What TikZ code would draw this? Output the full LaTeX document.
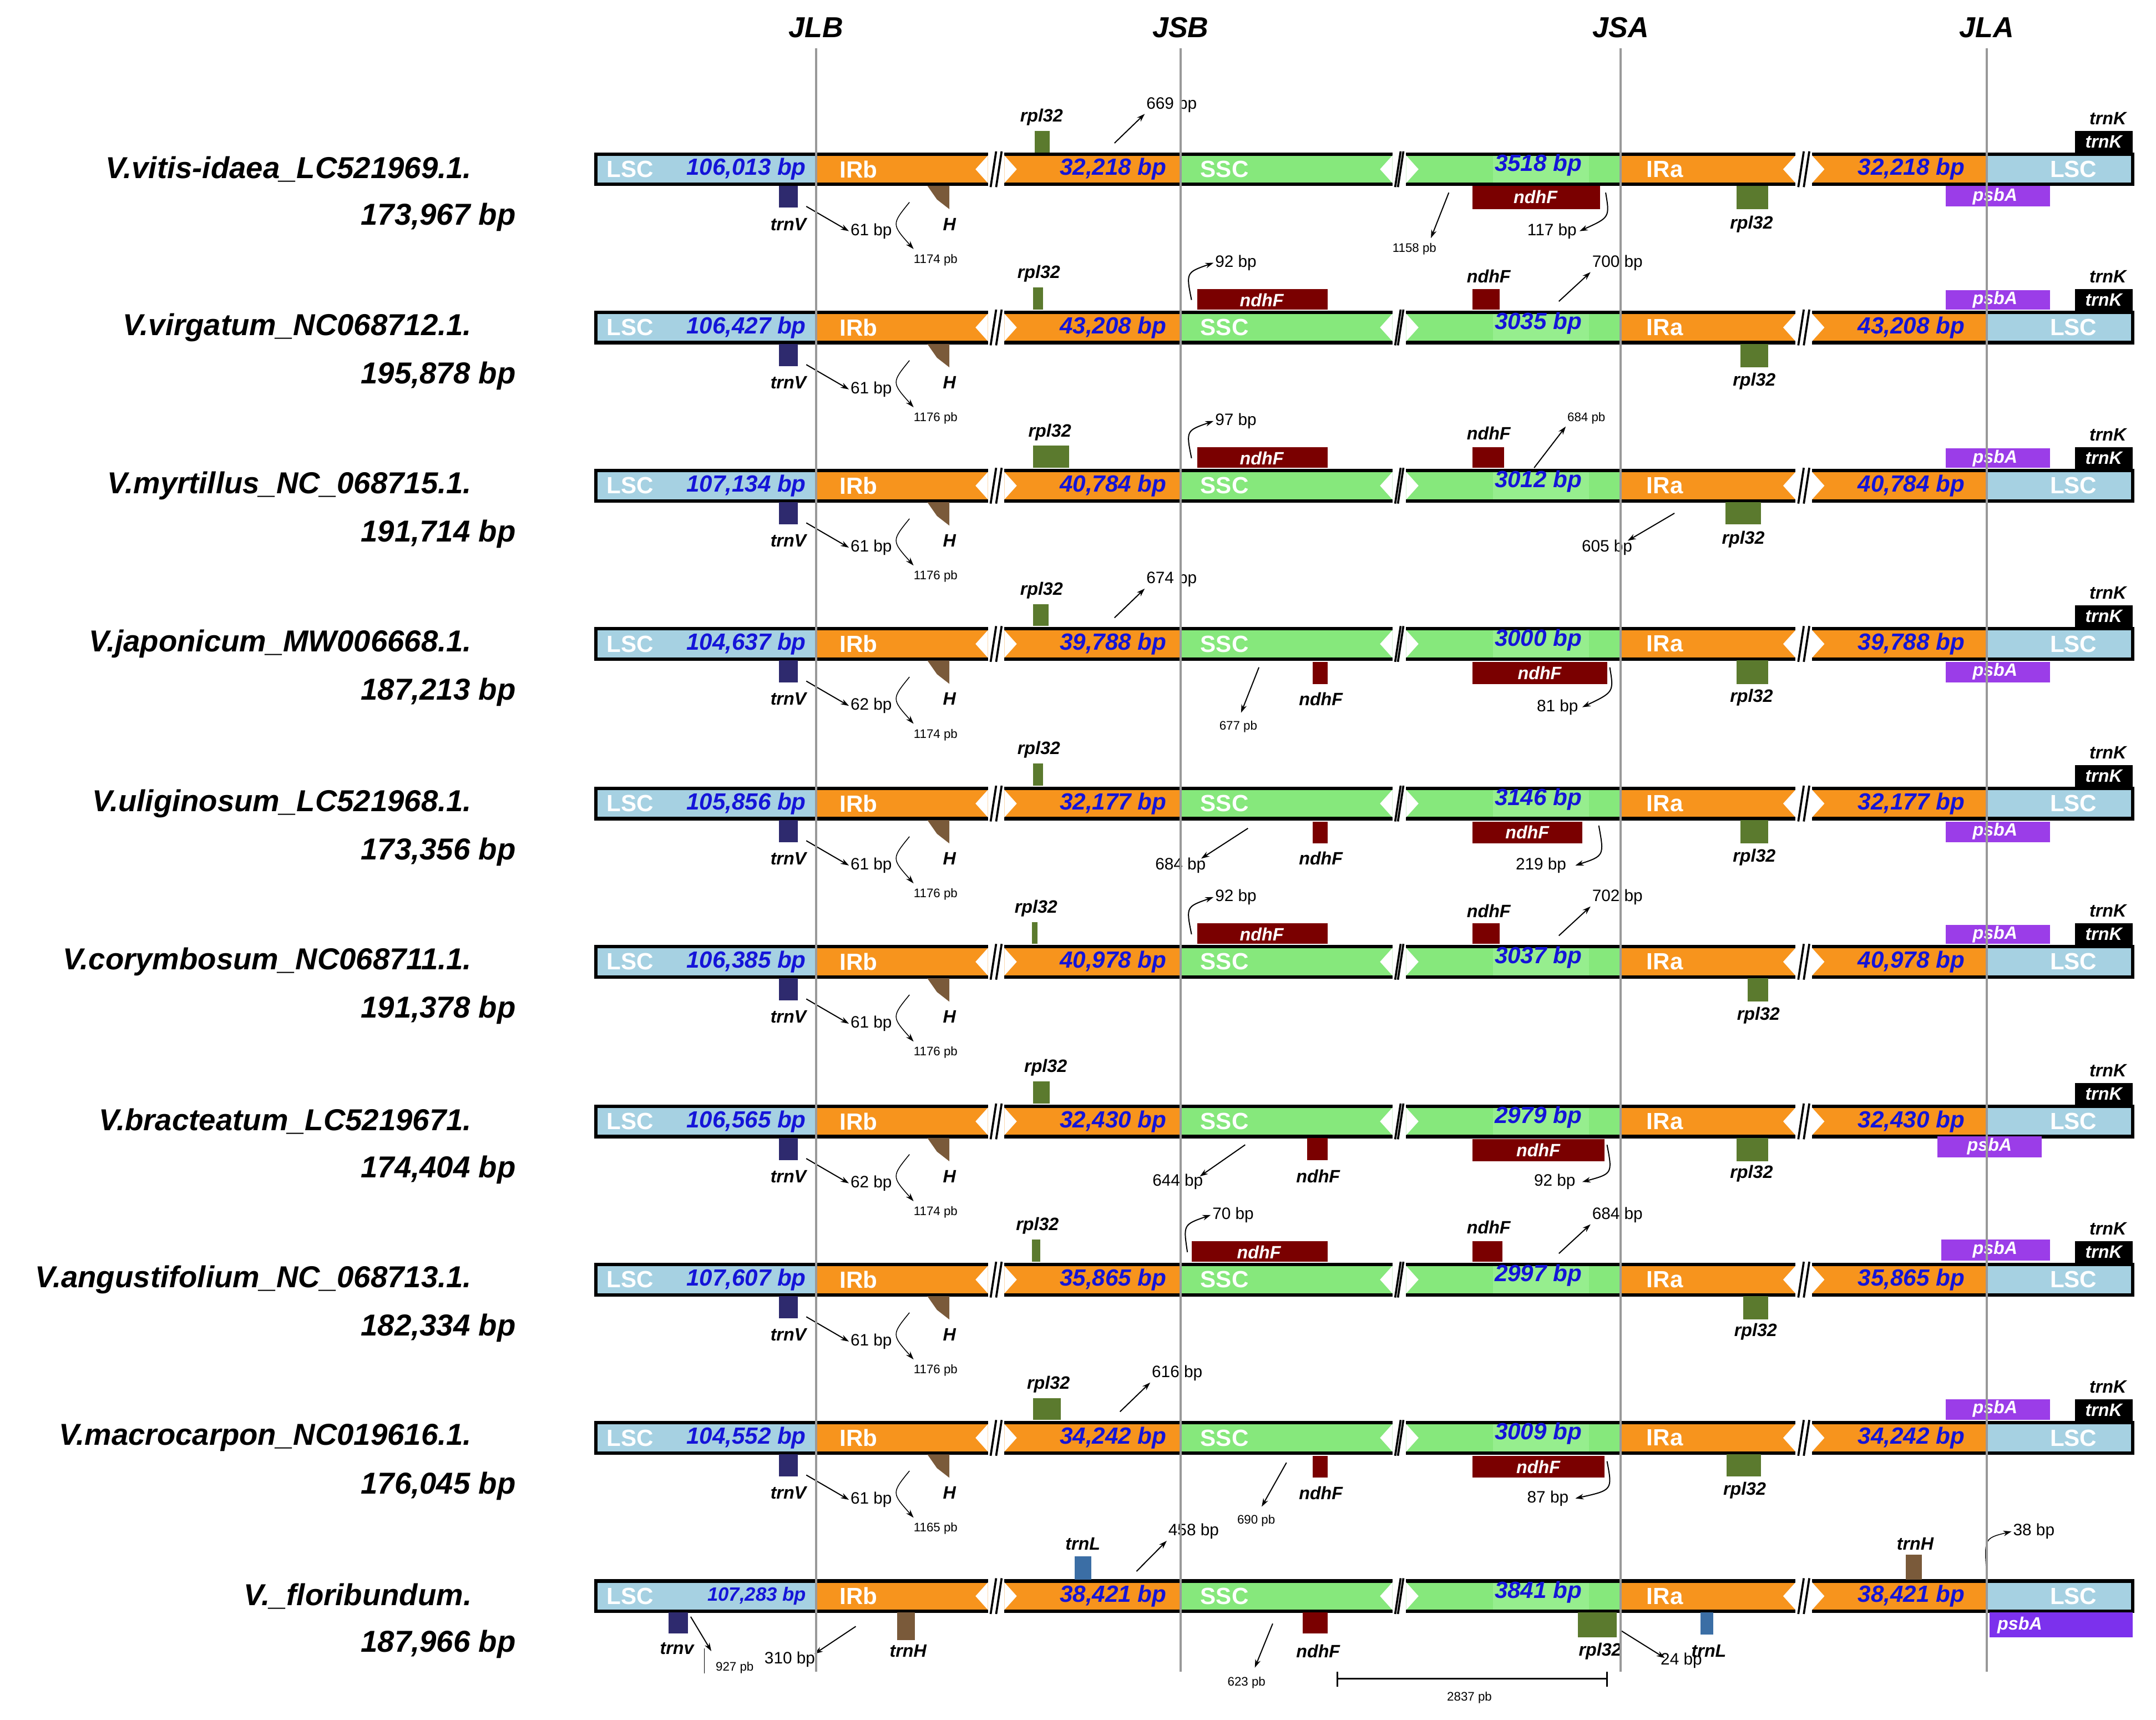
\documentclass[tikz,border=0pt]{standalone}
\usepackage{fontspec}
\setmainfont{Liberation Sans}
\usetikzlibrary{arrows.meta}
\definecolor{lsc}{HTML}{A6D1E2}
\definecolor{ir}{HTML}{F7941D}
\definecolor{ssc}{HTML}{86E87C}
\definecolor{sscl}{HTML}{96EE8E}
\definecolor{bpblue}{HTML}{1414D8}
\definecolor{trnv}{HTML}{2E2A6E}
\definecolor{rpl}{HTML}{5B7A2E}
\definecolor{ndh}{HTML}{7A0000}
\definecolor{psb}{HTML}{9B3DE8}
\definecolor{trnh}{HTML}{7A5A3A}
\definecolor{trnl}{HTML}{3B6EA5}
\tikzset{
 gl/.style={font=\fontsize{13}{13}\selectfont\bfseries\itshape,inner sep=1pt},
 wl/.style={gl,text=white},
 bp/.style={font=\fontsize{12}{12}\selectfont,inner sep=1pt},
 pb/.style={font=\fontsize{9}{9}\selectfont,inner sep=1pt},
 ar/.style={-{Stealth[length=6pt,width=4pt]},line width=0.8pt},
 bt/.style={font=\fontsize{17}{17}\selectfont\bfseries,text=white,inner sep=0pt},
 bb/.style={font=\fontsize{17}{17}\selectfont\bfseries\itshape,text=bpblue,inner sep=0pt},
 sp/.style={font=\fontsize{22}{22}\selectfont\bfseries\itshape,inner sep=0pt},
 hd/.style={font=\fontsize{21}{21}\selectfont\bfseries\itshape},
 vl/.style={draw=black!40,line width=1.6pt},
}
\newcommand\Brk[2]{%
 \fill[white] (#1,-14) rectangle (#2,14);
 \fill[white] (#1-9,0)--(#1,-10)--(#1,10)--cycle;
 \fill[white] (#2,-10)--(#2+9,0)--(#2,10)--cycle;
 \draw[line width=1.5pt] (#1+2,13)--(#1+6,-13) (#2-6,13)--(#2-2,-13);}
\newcommand\VBar[8]{%
 \fill[lsc] (433,-11) rectangle (593,11);
 \fill[ir] (593,-11) rectangle (858,11);
 \fill[ssc] (858,-11) rectangle (1178,11);
 \fill[ir] (1178,-11) rectangle (1444,11);
 \fill[lsc] (1444,-11) rectangle (1550,11);
 \fill[sscl] (1085,-11) rectangle (1155,10);
 \draw[line width=2.5pt] (433,-11) rectangle (1550,11);
 \Brk{718}{730}\Brk{1012}{1022}\Brk{1305}{1317}
 \node[bt] (l1#1) at (458,0) {LSC};
 \node[bb,anchor=east,#8] (lb#1) at (586,0) {#2};
 \node[bt] (irb#1) at (624,0) {IRb};
 \node[bb,anchor=east] (ib#1) at (848,0) {#3};
 \node[bt] (ssc#1) at (890,0) {SSC};
 \node[bb] (sb#1) at (1118,-3) {#4};
 \node[bt] (ira#1) at (1210,0) {IRa};
 \node[bb,anchor=east] (ia#1) at (1428,0) {#3};
 \node[bt] (l2#1) at (1507,0) {LSC};
 \node[sp,anchor=east] (sp#1) at (343,0) {#5};
 \node[sp,anchor=east] (len#1) at (375,35) {#6};
 \ifx\relax#7\relax\else
 \fill[trnv] (566,12) rectangle (580,28);
 \node[gl] (tv#1) at (573,40) {trnV};
 \node[bp,anchor=west] (b61#1) at (617,45) {#7};
 \draw[ar] (586,27) -- (b61#1.west);
 \fill[trnh] (674,12)--(690,12)--(690,29)--(681,22)--cycle;
 \node[gl] (h#1) at (690,40) {H};
 \fill[black] (1508,-28) rectangle (1550,-12);
 \node[wl] (tk#1) at (1529,-20) {trnK};
 \node[gl] (tkl#1) at (1532,-37) {trnK};
 \fi}
\newcommand\Hpb[2]{\node[pb] (hp#1) at (680,66) {#2};
 \draw[ar,line width=0.6pt] (661,24) .. controls (648,40) .. (664,58);}
\begin{document}
\begin{tikzpicture}[x=1pt,y=-1pt]
\useasboundingbox (0,0) rectangle (1567,1250);
\node[hd] (jlb) at (593,20) {JLB};
\node[hd] (jsb) at (858,20) {JSB};
\node[hd] (jsa) at (1178,20) {JSA};
\node[hd] (jla) at (1444,20) {JLA};
% Row 1
\begin{scope}[shift={(0,123)}]
\VBar{1}{106,013 bp}{32,218 bp}{3518 bp}{V.vitis-idaea\_LC521969.1.}{173,967 bp}{61 bp}{}
\Hpb{1}{1174 pb}
\fill[rpl] (752,-28) rectangle (763,-12); \node[gl] (r1) at (757,-38) {rpl32};
\node[bp,anchor=west] (a1) at (832,-47) {669 bp}; \draw[ar] (810,-19) -- (a1.south west);
\fill[ndh] (1070,12) rectangle (1163,29); \node[wl] (n1) at (1116,20) {ndhF};
\node[pb] (c1) at (1028,58) {1158 pb}; \draw[ar] (1053,17) -- (1040,50);
\node[bp] (d1) at (1128,45) {117 bp}; \draw[ar] (1167,17) .. controls (1170,35) .. (1148,45);
\fill[rpl] (1262,12) rectangle (1285,29); \node[gl] (q1) at (1273,40) {rpl32};
\fill[psb] (1414,12) rectangle (1490,27); \node[wl] (ps1) at (1450,20) {psbA};
\end{scope}
% Row 2
\begin{scope}[shift={(0,238)}]
\VBar{2}{106,427 bp}{43,208 bp}{3035 bp}{V.virgatum\_NC068712.1.}{195,878 bp}{61 bp}{}
\Hpb{2}{1176 pb}
\fill[rpl] (751,-29) rectangle (758,-13); \node[gl] (r2) at (755,-39) {rpl32};
\fill[ndh] (870,-28) rectangle (965,-13); \node[wl] (n2) at (917,-20) {ndhF};
\node[bp,anchor=west] (a2) at (882,-47) {92 bp}; \draw[ar] (866,-20) .. controls (862,-40) .. (a2.west);
\fill[ndh] (1070,-28) rectangle (1090,-13); \node[gl] (m2) at (1082,-37) {ndhF};
\node[bp,anchor=west] (e2) at (1156,-47) {700 bp}; \draw[ar] (1133,-19) -- (e2.south west);
\fill[psb] (1414,-27) rectangle (1490,-13); \node[wl] (ps2) at (1450,-20) {psbA};
\fill[rpl] (1265,12) rectangle (1285,29); \node[gl] (q2) at (1275,39) {rpl32};
\end{scope}
% Row 3
\begin{scope}[shift={(0,353)}]
\VBar{3}{107,134 bp}{40,784 bp}{3012 bp}{V.myrtillus\_NC\_068715.1.}{191,714 bp}{61 bp}{}
\Hpb{3}{1176 pb}
\fill[rpl] (751,-29) rectangle (777,-13); \node[gl] (r3) at (763,-39) {rpl32};
\fill[ndh] (870,-28) rectangle (965,-13); \node[wl] (n3) at (917,-20) {ndhF};
\node[bp,anchor=west] (a3) at (882,-47) {97 bp}; \draw[ar] (866,-20) .. controls (862,-40) .. (a3.west);
\fill[ndh] (1070,-28) rectangle (1093,-13); \node[gl] (m3) at (1082,-38) {ndhF};
\node[pb,anchor=west] (e3) at (1138,-49) {684 pb}; \draw[ar] (1115,-13) -- (1138,-43);
\fill[psb] (1414,-27) rectangle (1490,-13); \node[wl] (ps3) at (1450,-20) {psbA};
\node[bp] (f3) at (1168,45) {605 bp}; \draw[ar] (1217,20) -- (1183,40);
\fill[rpl] (1254,12) rectangle (1280,28); \node[gl] (q3) at (1267,39) {rpl32};
\end{scope}
% Row 4
\begin{scope}[shift={(0,468)}]
\VBar{4}{104,637 bp}{39,788 bp}{3000 bp}{V.japonicum\_MW006668.1.}{187,213 bp}{62 bp}{}
\Hpb{4}{1174 pb}
\fill[rpl] (751,-29) rectangle (762,-13); \node[gl] (r4) at (757,-39) {rpl32};
\node[bp,anchor=west] (a4) at (832,-47) {674 bp}; \draw[ar] (810,-19) -- (a4.south west);
\node[pb] (c4) at (900,60) {677 pb}; \draw[ar] (915,17) -- (902,50);
\fill[ndh] (954,13) rectangle (965,29); \node[gl] (m4) at (960,40) {ndhF};
\fill[ndh] (1070,13) rectangle (1168,29); \node[wl] (n4) at (1119,21) {ndhF};
\node[bp] (d4) at (1132,46) {81 bp}; \draw[ar] (1170,17) .. controls (1173,35) .. (1150,46);
\fill[rpl] (1262,12) rectangle (1285,29); \node[gl] (q4) at (1273,39) {rpl32};
\fill[psb] (1414,13) rectangle (1490,28); \node[wl] (ps4) at (1450,20) {psbA};
\end{scope}
% Row 5
\begin{scope}[shift={(0,584)}]
\VBar{5}{105,856 bp}{32,177 bp}{3146 bp}{V.uliginosum\_LC521968.1.}{173,356 bp}{61 bp}{}
\Hpb{5}{1176 pb}
\fill[rpl] (751,-29) rectangle (758,-13); \node[gl] (r5) at (755,-39) {rpl32};
\node[bp] (c5) at (858,45) {684 bp}; \draw[ar] (907,18) -- (873,40);
\fill[ndh] (954,13) rectangle (965,29); \node[gl] (m5) at (960,40) {ndhF};
\fill[ndh] (1070,13) rectangle (1150,29); \node[wl] (n5) at (1110,21) {ndhF};
\node[bp] (d5) at (1120,45) {219 bp}; \draw[ar] (1162,16) .. controls (1166,38) .. (1145,45);
\fill[rpl] (1265,12) rectangle (1285,29); \node[gl] (q5) at (1275,39) {rpl32};
\fill[psb] (1414,13) rectangle (1490,28); \node[wl] (ps5) at (1450,20) {psbA};
\end{scope}
% Row 6
\begin{scope}[shift={(0,699)}]
\VBar{6}{106,385 bp}{40,978 bp}{3037 bp}{V.corymbosum\_NC068711.1.}{191,378 bp}{61 bp}{}
\Hpb{6}{1176 pb}
\fill[rpl] (750,-29) rectangle (754,-13); \node[gl] (r6) at (753,-39) {rpl32};
\fill[ndh] (870,-28) rectangle (965,-13); \node[wl] (n6) at (917,-20) {ndhF};
\node[bp,anchor=west] (a6) at (882,-47) {92 bp}; \draw[ar] (866,-20) .. controls (862,-40) .. (a6.west);
\fill[ndh] (1070,-28) rectangle (1090,-13); \node[gl] (m6) at (1082,-37) {ndhF};
\node[bp,anchor=west] (e6) at (1156,-47) {702 bp}; \draw[ar] (1133,-19) -- (e6.south west);
\fill[psb] (1414,-27) rectangle (1490,-13); \node[wl] (ps6) at (1450,-20) {psbA};
\fill[rpl] (1270,12) rectangle (1285,29); \node[gl] (q6) at (1278,39) {rpl32};
\end{scope}
% Row 7
\begin{scope}[shift={(0,815)}]
\VBar{7}{106,565 bp}{32,430 bp}{2979 bp}{V.bracteatum\_LC5219671.}{174,404 bp}{62 bp}{}
\Hpb{7}{1174 pb}
\fill[rpl] (751,-29) rectangle (763,-13); \node[gl] (r7) at (760,-39) {rpl32};
\node[bp] (c7) at (856,44) {644 bp}; \draw[ar] (905,17) -- (872,40);
\fill[ndh] (950,12) rectangle (965,28); \node[gl] (m7) at (958,40) {ndhF};
\fill[ndh] (1070,13) rectangle (1166,29); \node[wl] (n7) at (1118,21) {ndhF};
\node[bp] (d7) at (1130,44) {92 bp}; \draw[ar] (1168,17) .. controls (1172,38) .. (1150,44);
\fill[rpl] (1262,12) rectangle (1285,29); \node[gl] (q7) at (1273,38) {rpl32};
\fill[psb] (1408,11) rectangle (1484,26); \node[wl] (ps7) at (1446,18) {psbA};
\end{scope}
% Row 8
\begin{scope}[shift={(0,930)}]
\VBar{8}{107,607 bp}{35,865 bp}{2997 bp}{V.angustifolium\_NC\_068713.1.}{182,334 bp}{61 bp}{}
\Hpb{8}{1176 pb}
\fill[rpl] (750,-29) rectangle (756,-13); \node[gl] (r8) at (754,-39) {rpl32};
\fill[ndh] (866,-28) rectangle (965,-13); \node[wl] (n8) at (915,-20) {ndhF};
\node[bp,anchor=west] (a8) at (880,-47) {70 bp}; \draw[ar] (863,-20) .. controls (860,-40) .. (a8.west);
\fill[ndh] (1070,-28) rectangle (1092,-13); \node[gl] (m8) at (1082,-38) {ndhF};
\node[bp,anchor=west] (e8) at (1156,-47) {684 bp}; \draw[ar] (1133,-19) -- (e8.south west);
\fill[psb] (1411,-29) rectangle (1490,-14); \node[wl] (ps8) at (1450,-22) {psbA};
\fill[rpl] (1267,12) rectangle (1285,29); \node[gl] (q8) at (1276,38) {rpl32};
\end{scope}
% Row 9
\begin{scope}[shift={(0,1045)}]
\VBar{9}{104,552 bp}{34,242 bp}{3009 bp}{V.macrocarpon\_NC019616.1.}{176,045 bp}{61 bp}{}
\Hpb{9}{1165 pb}
\fill[rpl] (751,-29) rectangle (771,-13); \node[gl] (r9) at (762,-39) {rpl32};
\node[bp,anchor=west] (a9) at (836,-47) {616 bp}; \draw[ar] (814,-19) -- (a9.south west);
\fill[psb] (1414,-28) rectangle (1490,-13); \node[wl] (ps9) at (1450,-21) {psbA};
\node[pb] (c9) at (913,60) {690 pb}; \draw[ar] (935,18) -- (917,50);
\fill[ndh] (954,13) rectangle (965,29); \node[gl] (m9) at (960,40) {ndhF};
\fill[ndh] (1070,13) rectangle (1166,29); \node[wl] (n9) at (1118,21) {ndhF};
\node[bp] (d9) at (1125,44) {87 bp}; \draw[ar] (1168,17) .. controls (1172,38) .. (1145,44);
\fill[rpl] (1255,12) rectangle (1280,28); \node[gl] (q9) at (1268,38) {rpl32};
\end{scope}
% Row 10
\begin{scope}[shift={(0,1160)}]
\VBar{10}{107,283 bp}{38,421 bp}{3841 bp}{V.\_floribundum.}{187,966 bp}{}{font=\fontsize{14}{14}\selectfont\bfseries\itshape}
\fill[trnl] (781,-29) rectangle (793,-12); \node[gl] (tl10) at (787,-38) {trnL};
\node[bp,anchor=west] (a10) at (848,-47) {458 bp}; \draw[ar] (826,-18) -- (a10.south west);
\fill[trnh] (1385,-30) rectangle (1397,-12); \node[gl] (th10) at (1392,-38) {trnH};
\node[bp,anchor=west] (g10) at (1462,-47) {38 bp}; \draw[ar,line width=0.6pt] (1444,-15) .. controls (1442,-42) .. (g10.west);
\fill[trnv] (486,12) rectangle (500,27); \node[gl] (tv10) at (492,38) {trnv};
\node[pb] (c10) at (534,52) {927 pb}; \draw[ar] (502,15) -- (517,40);
\draw[line width=0.5pt] (512,38) -- (512,56);
\node[bp] (f10) at (574,46) {310 bp}; \draw[ar] (622,22) -- (592,42);
\fill[trnh] (652,12) rectangle (665,32); \node[gl] (thb10) at (660,40) {trnH};
\node[pb] (k10) at (906,63) {623 pb}; \draw[ar] (925,20) -- (912,52);
\fill[ndh] (947,12) rectangle (965,27); \node[gl] (m10) at (958,40) {ndhF};
\fill[rpl] (1147,12) rectangle (1175,30); \node[gl] (q10) at (1163,40) {rpl32};
\node[bp] (t10) at (1222,47) {24 bp}; \draw[ar] (1178,25) -- (1210,45);
\fill[trnl] (1236,12) rectangle (1245,28); \node[gl] (tlb10) at (1242,40) {trnL};
\fill[psb!80!blue] (1446,12) rectangle (1550,30); \node[wl] (ps10) at (1468,21) {psbA};
\coordinate (sb1) at (972,60); \coordinate (sb2) at (1168,60);
\draw[line width=1.5pt] (sb1) -- (sb2);
\draw[line width=1pt] (972,55) -- (972,66) (1168,55) -- (1168,66);
\node[pb] (s10) at (1068,74) {2837 pb};
\end{scope}
% junction lines
\draw[vl] (593,35) -- (593,1215);
\draw[vl] (858,35) -- (858,1215);
\draw[vl] (1178,35) -- (1178,1215);
\draw[vl] (1444,35) -- (1444,1215);
\end{tikzpicture}
\end{document}
